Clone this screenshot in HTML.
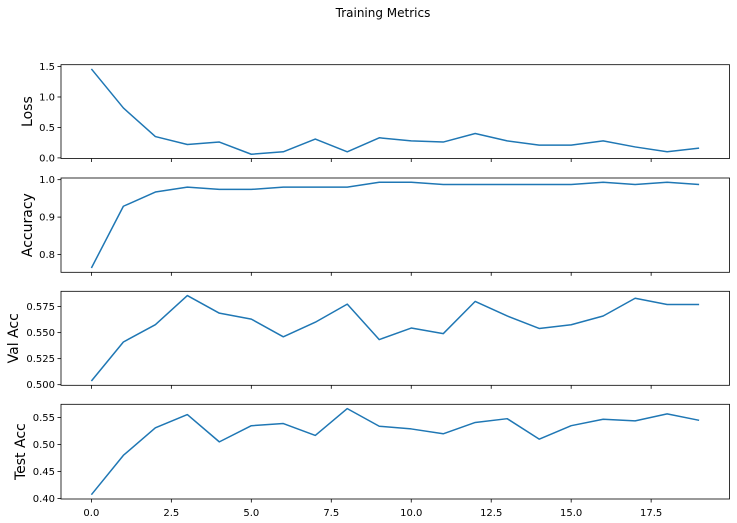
<!DOCTYPE html>
<html><head><meta charset="utf-8"><style>
html,body{margin:0;padding:0;background:#fff;}
svg{display:block;font-family:"DejaVu Sans","Liberation Sans",sans-serif;}
</style></head><body>
<svg id="chart" width="737" height="523" viewBox="0 0 737 523">
<text x="383" y="17" font-size="12" text-anchor="middle" fill="#000">Training Metrics</text>
</svg>
<script>
const epochs = [0,1,2,3,4,5,6,7,8,9,10,11,12,13,14,15,16,17,18,19];
const lossValues = [1.46,0.82,0.35,0.22,0.26,0.06,0.10,0.31,0.10,0.33,0.28,0.26,0.40,0.28,0.21,0.21,0.28,0.18,0.10,0.16];
const accuracyValues = [0.764,0.929,0.967,0.980,0.974,0.974,0.980,0.980,0.980,0.993,0.993,0.987,0.987,0.987,0.987,0.987,0.993,0.987,0.993,0.987];
const valAccValues = [0.5035,0.541,0.5576,0.5856,0.5687,0.563,0.546,0.560,0.5774,0.5433,0.5544,0.549,0.580,0.566,0.554,0.5576,0.566,0.583,0.577,0.577];
const testAccValues = [0.407,0.480,0.531,0.5556,0.505,0.535,0.539,0.517,0.5667,0.534,0.529,0.520,0.541,0.548,0.510,0.535,0.547,0.544,0.557,0.545];
const lossTicks = ["0.0","0.5","1.0","1.5"];
const accuracyTicks = ["0.8","0.9","1.0"];
const valAccTicks = ["0.500","0.525","0.550","0.575"];
const testAccTicks = ["0.40","0.45","0.50","0.55"];
const xTickLabels = ["0.0","2.5","5.0","7.5","10.0","12.5","15.0","17.5"];

const NS = "http://www.w3.org/2000/svg";
const svg = document.getElementById("chart");
const L = 61, R = 729.5;
const xMin = -0.95, xMax = 19.95;
const xScale = v => L + (v - xMin) / (xMax - xMin) * (R - L);

function mk(tag, attrs, parent) {
  const e = document.createElementNS(NS, tag);
  for (const k in attrs) e.setAttribute(k, attrs[k]);
  parent.appendChild(e);
  return e;
}

const panels = [
  {name:"loss", label:"Loss", vals:lossValues, ticks:lossTicks, top:64.7, bottom:158.5, lx:32},
  {name:"accuracy", label:"Accuracy", vals:accuracyValues, ticks:accuracyTicks, top:178, bottom:272.3, lx:32},
  {name:"val-acc", label:"Val Acc", vals:valAccValues, ticks:valAccTicks, top:291.3, bottom:385.3, lx:18},
  {name:"test-acc", label:"Test Acc", vals:testAccValues, ticks:testAccTicks, top:404.3, bottom:499, lx:25}
];

panels.forEach((p, pi) => {
  const g = mk("g", {}, svg);
  
  
  const mn = Math.min(...p.vals), mx = Math.max(...p.vals);
  const pad = (mx - mn) * 0.05;
  const y0 = mn - pad, y1 = mx + pad;
  const yScale = v => p.bottom - (v - y0) / (y1 - y0) * (p.bottom - p.top);

  p.ticks.forEach(t => {
    const y = yScale(parseFloat(t));
    const tk = mk("line", {x1:L-3.5, x2:L, y1:y, y2:y, stroke:"#000", "stroke-width":0.8}, g);
    
    
    const tx = mk("text", {x:L-6, y:y+3.5, "font-size":10, "text-anchor":"end", fill:"#000"}, g);
    
    
    tx.textContent = t;
  });
  xTickLabels.forEach(t => {
    const x = xScale(parseFloat(t));
    const tk = mk("line", {x1:x, x2:x, y1:p.bottom, y2:p.bottom+3.5, stroke:"#000", "stroke-width":0.8}, g);
    
    
    if (pi === panels.length - 1) {
      const tx = mk("text", {x:x, y:p.bottom+17, "font-size":10, "text-anchor":"middle", fill:"#000"}, g);
      
      
      tx.textContent = t;
    }
  });
  const d = p.vals.map((v, i) => (i ? "L" : "M") + xScale(epochs[i]).toFixed(2) + "," + yScale(v).toFixed(2)).join("");
  const path = mk("path", {d:d, fill:"none", stroke:"#1f77b4", "stroke-width":1.5, "stroke-linejoin":"round"}, g);
  
  
  const fr = mk("rect", {x:L, y:p.top, width:R-L, height:p.bottom-p.top, fill:"none", stroke:"#000", "stroke-width":0.8}, g);
  
  
  const cy = (p.top + p.bottom) / 2;
  const yl = mk("text", {x:0, y:0, "font-size":14, "text-anchor":"middle", fill:"#000", transform:"translate(" + p.lx + "," + cy + ") rotate(-90)"}, g);
  
  
  yl.textContent = p.label;
});
</script>
</body></html>
